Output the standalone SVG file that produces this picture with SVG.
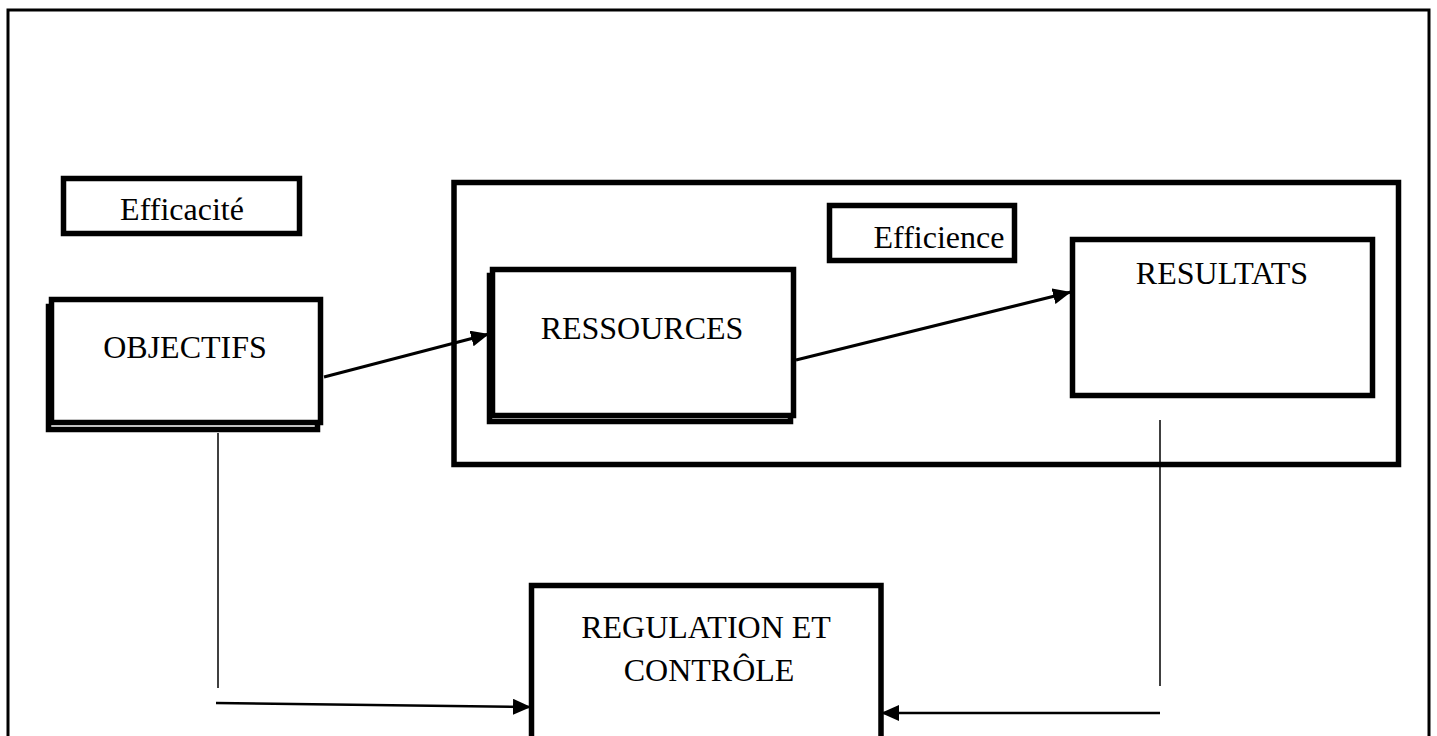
<svg xmlns="http://www.w3.org/2000/svg" width="1437" height="736" viewBox="0 0 1437 736">
  <style>
    .box { fill: #fff; stroke: #000; stroke-width: 5.5; }
    .shadow { fill: none; stroke: #000; stroke-width: 5.5; }
    .label { font-family: "Liberation Serif", "Times New Roman", serif; font-size: 32px; fill: #000; text-anchor: middle; }
    .link { stroke: #000; fill: none; }
  </style>
  <defs>
    <marker id="arrow" markerUnits="userSpaceOnUse" markerWidth="19" markerHeight="16" refX="18" refY="8" orient="auto">
      <path d="M0,0 L18,8 L0,16 z" fill="#000"/>
    </marker>
  </defs>

  <rect width="1437" height="736" fill="#fff"/>

  <!-- page frame -->
  <rect id="frame" x="8" y="10" width="1421" height="760" fill="none" stroke="#000" stroke-width="3"/>

  <!-- container around resources / results -->
  <g id="container">
    <rect class="box" x="454" y="182.5" width="944.5" height="282"/>
  </g>

  <g id="efficacite">
    <rect class="box" x="63.5" y="178.5" width="236" height="55"/>
    <text class="label" x="182" y="220">Efficacité</text>
  </g>

  <g id="objectifs">
    <rect class="shadow" x="48.5" y="306.5" width="269" height="123"/>
    <rect class="box" x="51.5" y="299.5" width="269" height="123"/>
    <text class="label" x="185" y="358">OBJECTIFS</text>
  </g>

  <g id="efficience">
    <rect class="box" x="829.5" y="205.5" width="185" height="55"/>
    <text class="label" x="939" y="248">Efficience</text>
  </g>

  <g id="ressources">
    <rect class="shadow" x="489.5" y="275.5" width="301" height="146"/>
    <rect class="box" x="492.5" y="269.5" width="301" height="146"/>
    <text class="label" x="642" y="339">RESSOURCES</text>
  </g>

  <g id="resultats">
    <rect class="box" x="1072.5" y="239.5" width="300" height="156"/>
    <text class="label" x="1222" y="284">RESULTATS</text>
  </g>

  <g id="regulation">
    <rect class="box" x="531.5" y="585.5" width="349.5" height="200"/>
    <text class="label" x="706" y="638">REGULATION ET</text>
    <text class="label" x="709" y="681">CONTRÔLE</text>
  </g>

  <g id="connectors">
    <line class="link" x1="324" y1="377" x2="489" y2="334" stroke-width="3" marker-end="url(#arrow)"/>
    <line class="link" x1="796" y1="360" x2="1071" y2="292" stroke-width="3" marker-end="url(#arrow)"/>
    <line class="link" x1="218" y1="433" x2="218" y2="688" stroke-width="1.5"/>
    <line class="link" x1="216" y1="703" x2="531" y2="707" stroke-width="2.5" marker-end="url(#arrow)"/>
    <line class="link" x1="1160" y1="420" x2="1160" y2="686" stroke-width="1.5"/>
    <line class="link" x1="1160" y1="713" x2="881" y2="713" stroke-width="2.5" marker-end="url(#arrow)"/>
  </g>
</svg>
